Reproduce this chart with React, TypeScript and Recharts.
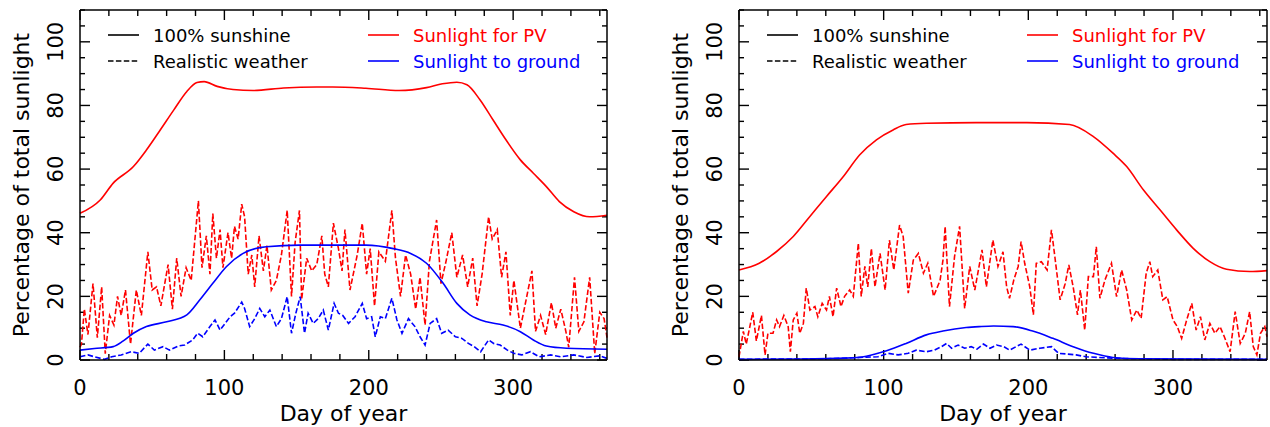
import { LineChart, Line, XAxis, YAxis, ReferenceLine } from "recharts";

const FONT = "'DejaVu Sans', Verdana, sans-serif";
const RED = "#ff0000";
const BLUE = "#0000ff";

const X_MAX = 365;
const Y_MAX = 110;
const X_TICKS = [0, 20, 40, 60, 80, 100, 120, 140, 160, 180, 200, 220, 240, 260, 280, 300, 320, 340, 360];
const Y_TICKS = [0, 5, 10, 15, 20, 25, 30, 35, 40, 45, 50, 55, 60, 65, 70, 75, 80, 85, 90, 95, 100, 105, 110];

// [day, percentage] pairs
// left panel
const pvClearA = [
  [0, 46.1], [14, 50.3], [23, 55.6], [37, 60.8], [46, 66], [55, 71.9], [65, 78.6], [74, 84.4],
  [81, 87.2], [86, 87.5], [95, 86], [106, 85], [120, 84.7], [141, 85.5], [164, 85.8], [175, 85.8],
  [198, 85.4], [221, 84.7], [240, 85.6], [251, 86.8], [261, 87.3], [268, 86.5], [277, 81.8],
  [286, 75.5], [295, 69.2], [305, 62.9], [314, 58.7], [323, 54.5], [332, 49.8], [342, 46.6],
  [353, 45], [365, 45.5],
];
const groundClearA = [
  [0, 3.1], [10, 3.6], [23, 4.2], [30, 6], [37, 8.4], [46, 10.5], [60, 12], [74, 14.2], [83, 18.9],
  [92, 24.1], [101.5, 29.4], [113, 33.5], [129, 35.6], [152, 36.1], [198, 36.1], [217, 35],
  [229, 33.5], [240, 30.4], [251.5, 24.1], [261, 17.8], [270, 14.2], [281.5, 12], [293, 11],
  [305, 8.9], [314, 6.3], [323, 4.4], [337, 3.7], [365, 3.4],
];
const pvRealA = [
  [0, 4], [1, 5], [3, 16], [5.5, 8], [9, 24], [12, 7], [15, 23], [17.5, 2], [20.5, 14], [23.5, 11],
  [26, 20], [28.5, 14], [31.5, 22], [35, 5], [39, 22], [42.5, 14], [47, 34], [50, 22], [53, 23],
  [56, 17], [61, 30], [64, 16], [67, 32], [70, 20], [73.5, 29], [77, 25], [82, 50], [84.5, 29],
  [87.5, 39], [90, 27], [92, 46], [94.5, 32], [97, 41], [99, 29], [102.5, 40], [105, 32], [107, 42],
  [109.5, 38], [112, 49], [114, 45], [116.5, 27], [119, 33], [121, 23], [124, 39], [127, 28],
  [129.5, 36], [132.5, 22], [136, 25], [139.5, 33], [143.5, 47], [146.5, 20], [149, 37], [152, 47],
  [153.5, 19], [157, 32], [160.5, 28], [164, 30], [167.5, 39], [169.5, 27], [172, 23], [175.5, 43],
  [179, 35], [181.5, 28], [183.5, 41], [187, 22], [192, 33], [195.5, 43], [198.5, 27], [201, 35],
  [204, 17], [207, 34], [211.5, 31], [216, 47], [218.5, 32], [222, 20], [225.5, 33], [229, 27],
  [232.5, 16], [235.5, 26], [239, 11], [242, 31], [247, 44], [250, 24], [253.5, 31], [257.5, 40],
  [261, 26], [265, 33], [268.5, 23], [272, 32], [275, 17], [278.5, 27], [283, 45], [285.5, 38],
  [289, 41], [292, 26], [295, 34], [298, 14], [300.5, 25], [305, 10], [309, 19], [313, 28],
  [315.5, 9], [319, 14], [322.5, 8], [326.5, 18], [329.5, 10], [333, 16], [336.5, 9], [338.5, 4],
  [342.5, 26], [345.5, 9], [349, 12], [353, 26], [356.5, 2], [360, 15], [363, 13], [365, 7],
];
const groundRealA = [
  [0, 1], [5.5, 1.6], [10, 1], [17, 0.2], [22, 1], [28.5, 1.6], [35.5, 2.6], [41, 2.1], [47, 5],
  [51.5, 3.1], [57.5, 4.2], [62, 3.1], [68, 4.4], [72.5, 4.7], [78, 6.3], [81.5, 8.4], [85, 7.3],
  [90, 10.5], [93.5, 12.6], [97, 9.4], [100.5, 11.5], [104, 13.6], [107, 14.7], [112, 18.2],
  [114, 16.2], [117.5, 10.5], [121, 13], [124.5, 16.2], [128, 13.6], [131.5, 15.7], [136, 10.5],
  [139.5, 13], [143.5, 19.9], [146.5, 8.4], [149.5, 14.7], [152.5, 19.9], [155.5, 8.4], [158, 14.7],
  [161.5, 11.5], [165, 13], [168.5, 15.7], [172, 9.4], [176, 17.8], [179, 14.7], [182, 14],
  [186, 11.5], [190.5, 13.6], [195.5, 17.8], [198.5, 13], [202, 13.6], [204.5, 7.3], [208, 13.6],
  [211.5, 13], [216, 19.4], [219.5, 12.6], [223, 8.4], [227.5, 13], [232, 10.5], [235.5, 7.3],
  [239, 4.7], [242.5, 11.5], [247, 13], [250.5, 8.4], [255, 9.4], [260, 7.3], [264.5, 6.8],
  [269, 5.2], [273, 4.2], [277.5, 2.6], [283, 6.3], [286.5, 5.2], [291, 4.7], [296, 3.1],
  [300.5, 2.1], [306, 1.6], [312, 2.6], [318, 1], [326, 1.6], [333, 1], [342, 1.6], [351, 0.8],
  [360, 1.3], [365, 0.5],
];

// right panel
const pvClearB = [
  [0, 28.3], [14, 30.4], [26, 34.1], [37.5, 38.8], [49, 45.1], [60.5, 51.4], [72, 57.6],
  [83.5, 64.5], [95, 69.2], [106.5, 72.3], [115.5, 74], [129.5, 74.4], [164, 74.6], [199, 74.6],
  [228.5, 74], [245, 70.2], [258.5, 65], [268, 60.8], [279.5, 53.5], [291, 47.2], [302.5, 40.9],
  [314, 35.1], [325.5, 30.9], [337, 28.5], [353, 27.8], [365, 28.1],
];
const groundClearB = [
  [0, 0.2], [40, 0.3], [74, 0.6], [88, 1.2], [102, 2.9], [115.5, 5.2], [129.5, 7.9], [141, 9.1],
  [157, 10.2], [166, 10.5], [176, 10.7], [189.5, 10.5], [203, 9.1], [217, 6.8], [231, 4.2],
  [245, 2.1], [258.5, 0.8], [277, 0.4], [365, 0.2],
];
const pvRealB = [
  [0, 1], [3, 9], [5, 5], [7.5, 10.5], [9.5, 15], [12, 6], [15.5, 14], [18, 1.6], [20, 8.4],
  [23.5, 8.4], [26, 12.6], [28, 10.5], [31, 14], [34, 10.5], [35.5, 2.6], [37.5, 12.6], [40, 14.7],
  [42, 8.4], [44.5, 11.5], [46.5, 22.6], [49, 15.7], [52.5, 16.8], [54.5, 13.6], [57.5, 17.8],
  [60.5, 15.7], [62.5, 20], [65, 13.6], [67.5, 22.6], [70.5, 16.8], [73, 20], [76.5, 22], [79, 20],
  [82.5, 36.7], [84.5, 20], [87, 29.4], [89, 23], [91.5, 35], [94, 23], [97.5, 33.5], [101, 22],
  [104, 37.7], [107, 28.3], [111, 42.4], [113.5, 38.8], [117, 21], [120.5, 31.4], [124, 33.5],
  [127.5, 27.3], [130.5, 30.4], [134.5, 20], [139, 25], [141, 31.4], [142.5, 42], [145.5, 16.8],
  [149, 32.5], [152.5, 42], [156, 16.2], [159.5, 29.4], [163, 22], [168, 34.6], [171, 23],
  [175.5, 37.7], [179, 29.4], [182.5, 34], [185, 23], [187, 19.4], [190, 25.2], [193, 29.4],
  [195, 37.2], [197.5, 30.4], [201, 23], [203.5, 14.2], [205.5, 30.4], [209, 30.9], [213, 28.3],
  [216, 40.9], [218.5, 31.9], [222, 18.9], [225.5, 24], [228, 29.9], [231, 23], [234, 14.2],
  [236, 22], [239, 9.4], [241.5, 26.2], [245, 26.2], [247, 35.6], [249.5, 19.4], [253, 25.2],
  [257.5, 30.4], [261, 19.9], [264.5, 28.3], [268, 22], [271.5, 12.6], [275, 15.7], [278, 13.1],
  [281.5, 27.3], [284, 30.9], [286, 26.2], [289.5, 28.3], [293, 18.9], [296, 19.9], [300, 12.6],
  [303, 10.5], [306, 6.8], [309.5, 12.6], [313, 17.8], [316, 9.4], [319, 13.6], [322, 6.3],
  [325.5, 11.5], [329, 8.4], [332.5, 10.5], [335.5, 7.3], [339.5, 2.6], [343, 15.2], [346.5, 5.2],
  [350, 8.4], [353, 15.2], [355.5, 4.2], [358, 1.6], [360.5, 8.4], [363.5, 10.5], [365, 7.3],
];
const groundRealB = [
  [0, 0.2], [20, 0.3], [40, 0.3], [60, 0.4], [75, 0.6], [88, 0.9], [96, 1], [103, 2.1], [110, 1.6],
  [117, 2.1], [122.5, 3.1], [129.5, 2.6], [135, 3.1], [140, 4.2], [143.5, 5.2], [147, 3.7],
  [151.5, 4.7], [156, 3.7], [160.5, 4.2], [164.5, 3.4], [169, 5], [173.5, 3.7], [178, 4.7],
  [183, 4.2], [187, 3.1], [195, 5], [201, 3.1], [208, 3.7], [216, 4.2], [221, 2.1], [226, 1.9],
  [233, 1.6], [240, 1], [249, 0.8], [258, 0.6], [272, 0.4], [300, 0.2], [365, 0.2],
];

const LEGEND_BLACK = ["100% sunshine", "Realistic weather"];
const LEGEND_COLOR = ["Sunlight for PV", "Sunlight to ground"];

const toPoints = (pairs: number[][]) => pairs.map(([day, pct]) => ({ day, pct }));

const AXIS_LINE = { stroke: "#000", strokeWidth: 1.5 };

// plot area is about 527 x 350 px: tick lengths expressed in data units
const PX_X = 527 / X_MAX;
const PX_Y = 350 / Y_MAX;
const xTickLen = (t: number) => (t % 100 === 0 ? 10 : 6) / PX_Y;
const yTickLen = (t: number) => (t % 20 === 0 ? 10 : 5) / PX_X;

function BottomTick(props: any) {
  const { x, y, payload } = props;
  if (payload.value % 100 !== 0) return <g />;
  return (
    <text x={x} y={Number(y) + 35} textAnchor="middle" fontSize={21} fontFamily={FONT} fill="#000">
      {payload.value}
    </text>
  );
}

function LeftTick(props: any) {
  const { x, y, payload } = props;
  const v = payload.value;
  if (v % 20 !== 0 || v > 100) return <g />;
  const tx = Number(x) - 17;
  return (
    <text
      x={tx}
      y={y}
      transform={`rotate(-90 ${tx} ${y})`}
      textAnchor="middle"
      fontSize={21}
      fontFamily={FONT}
      fill="#000"
    >
      {v}
    </text>
  );
}

function XTitle(props: any) {
  const { viewBox } = props;
  return (
    <text
      x={viewBox.x + viewBox.width / 2}
      y={viewBox.y + 61}
      textAnchor="middle"
      fontSize={22}
      fontFamily={FONT}
      fill="#000"
    >
      Day of year
    </text>
  );
}

function YTitle(props: any) {
  const { viewBox } = props;
  const tx = viewBox.x + viewBox.width - 51;
  const ty = viewBox.y + viewBox.height / 2;
  return (
    <text
      x={tx}
      y={ty}
      transform={`rotate(-90 ${tx} ${ty})`}
      textAnchor="middle"
      fontSize={22}
      fontFamily={FONT}
      fill="#000"
    >
      Percentage of total sunlight
    </text>
  );
}

function LegendOverlay({ plotLeft }: { plotLeft: number }) {
  const rows = [35, 61];
  return (
    <svg
      width={560}
      height={80}
      style={{ position: "absolute", left: plotLeft, top: 0, pointerEvents: "none" }}
    >
      {rows.map((cy, i) => (
        <g key={i}>
          <line
            x1={28}
            x2={59}
            y1={cy}
            y2={cy}
            stroke="#000"
            strokeWidth={1.6}
            strokeDasharray={i === 1 ? "5.5 2.4" : undefined}
          />
          <text x={73} y={cy + 6.5} fontSize={18} fontFamily={FONT} fill="#000">
            {LEGEND_BLACK[i]}
          </text>
          <line x1={288} x2={319} y1={cy} y2={cy} stroke={i === 0 ? RED : BLUE} strokeWidth={1.6} />
          <text x={333} y={cy + 6.5} fontSize={18} fontFamily={FONT} fill={i === 0 ? RED : BLUE}>
            {LEGEND_COLOR[i]}
          </text>
        </g>
      ))}
    </svg>
  );
}

interface PanelProps {
  left: number;
  width: number;
  marginRight: number;
  pvClear: number[][];
  groundClear: number[][];
  pvReal: number[][];
  groundReal: number[][];
}

function Panel({ left, width, marginRight, pvClear, groundClear, pvReal, groundReal }: PanelProps) {
  const plotLeft = 80;
  const tickProps = { stroke: "#000", strokeWidth: 1.4, ifOverflow: "visible" as const };
  return (
    <div style={{ position: "absolute", left, top: 0, width, height: 427 }}>
      <LineChart
        width={width}
        height={427}
        margin={{ top: 5, right: marginRight - 5, bottom: 0, left: 0 }}
      >
        <XAxis
          dataKey="day"
          type="number"
          domain={[0, X_MAX]}
          ticks={X_TICKS}
          interval={0}
          height={67}
          tickSize={0}
          tickMargin={0}
          tickLine={false}
          axisLine={AXIS_LINE}
          tick={(p: any) => <BottomTick {...p} />}
          label={{ value: "Day of year", content: XTitle }}
        />
        <XAxis
          xAxisId="top"
          orientation="top"
          dataKey="day"
          type="number"
          domain={[0, X_MAX]}
          height={5}
          tick={false}
          tickLine={false}
          axisLine={AXIS_LINE}
        />
        <YAxis
          type="number"
          domain={[0, Y_MAX]}
          ticks={Y_TICKS}
          interval={0}
          width={plotLeft}
          tickSize={0}
          tickMargin={0}
          tickLine={false}
          axisLine={AXIS_LINE}
          tick={(p: any) => <LeftTick {...p} />}
          label={{ value: "Percentage of total sunlight", content: YTitle }}
        />
        <YAxis
          yAxisId="right"
          orientation="right"
          type="number"
          domain={[0, Y_MAX]}
          width={5}
          tick={false}
          tickLine={false}
          axisLine={AXIS_LINE}
        />
        {X_TICKS.map((t) => (
          <ReferenceLine
            key={`xb${t}`}
            segment={[{ x: t, y: 0 }, { x: t, y: xTickLen(t) }]}
            {...tickProps}
          />
        ))}
        {X_TICKS.map((t) => (
          <ReferenceLine
            key={`xt${t}`}
            segment={[{ x: t, y: Y_MAX }, { x: t, y: Y_MAX - xTickLen(t) }]}
            {...tickProps}
          />
        ))}
        {Y_TICKS.map((t) => (
          <ReferenceLine
            key={`yl${t}`}
            segment={[{ x: 0, y: t }, { x: yTickLen(t), y: t }]}
            {...tickProps}
          />
        ))}
        {Y_TICKS.map((t) => (
          <ReferenceLine
            key={`yr${t}`}
            segment={[{ x: X_MAX, y: t }, { x: X_MAX - yTickLen(t), y: t }]}
            {...tickProps}
          />
        ))}
        <Line
          data={toPoints(pvReal)}
          dataKey="pct"
          type="linear"
          stroke={RED}
          strokeWidth={1.6}
          strokeDasharray="5.5 2.4"
          dot={false}
          isAnimationActive={false}
        />
        <Line
          data={toPoints(groundReal)}
          dataKey="pct"
          type="linear"
          stroke={BLUE}
          strokeWidth={1.6}
          strokeDasharray="5.5 2.4"
          dot={false}
          isAnimationActive={false}
        />
        <Line
          data={toPoints(pvClear)}
          dataKey="pct"
          type="monotone"
          stroke={RED}
          strokeWidth={1.6}
          dot={false}
          isAnimationActive={false}
        />
        <Line
          data={toPoints(groundClear)}
          dataKey="pct"
          type="monotone"
          stroke={BLUE}
          strokeWidth={1.6}
          dot={false}
          isAnimationActive={false}
        />
      </LineChart>
      <LegendOverlay plotLeft={plotLeft} />
    </div>
  );
}

export default function App() {
  return (
    <div
      style={{
        position: "absolute",
        left: 0,
        top: 0,
        width: 1270,
        height: 427,
        background: "#fff",
        fontFamily: FONT,
      }}
    >
      <Panel
        left={0}
        width={640}
        marginRight={33}
        pvClear={pvClearA}
        groundClear={groundClearA}
        pvReal={pvRealA}
        groundReal={groundRealA}
      />
      <Panel
        left={659}
        width={611}
        marginRight={3}
        pvClear={pvClearB}
        groundClear={groundClearB}
        pvReal={pvRealB}
        groundReal={groundRealB}
      />
    </div>
  );
}
